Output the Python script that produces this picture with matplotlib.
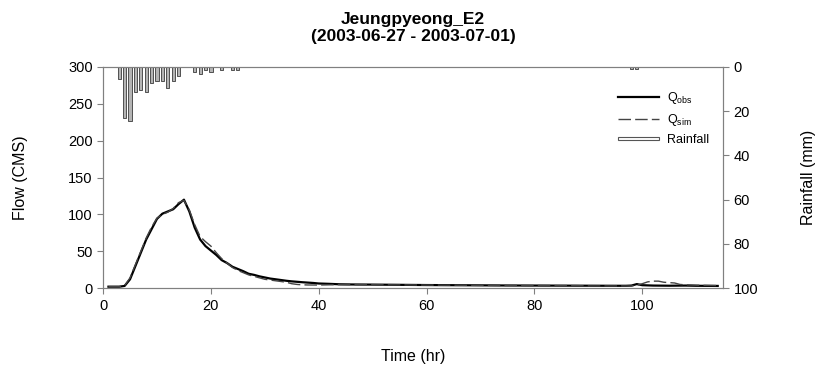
import matplotlib
matplotlib.use('Agg')
import matplotlib.pyplot as plt
from matplotlib.patches import Rectangle, Patch
from matplotlib.lines import Line2D
from matplotlib.legend_handler import HandlerPatch

plt.rcParams['font.family'] = ['Liberation Sans', 'DejaVu Sans']
plt.rcParams['mathtext.default'] = 'regular'

# observed flow (hr, CMS)
obs_hr = [1, 2, 3, 4, 5, 6, 7, 8, 9, 10, 11, 12, 13, 14, 15, 16, 17, 18, 19, 20,
          21, 22, 23, 24, 25, 26, 27, 28, 29, 30, 31, 32, 33, 34, 35, 36, 37, 38, 39, 40,
          42, 44, 46, 50, 55, 60, 65, 70, 75, 80, 85, 90, 95, 97, 98, 99, 100, 102,
          105, 108, 110, 114]
obs_q = [2, 2, 2, 3, 12, 30, 48, 66, 80, 94, 101, 104, 107, 114, 120, 104, 82, 66, 57, 51,
         45, 38, 34, 29, 26, 23, 19.5, 18, 16, 14.5, 13, 12, 11, 10, 9.2, 8.6, 8, 7.5, 7, 6.3,
         5.8, 5.2, 5, 4.8, 4.5, 4.2, 4, 3.8, 3.6, 3.5, 3.4, 3.3, 3.2, 3.2, 3.5, 5.5, 4, 3.5,
         3.3, 3.5, 3.2, 3]

# simulated flow (hr, CMS)
sim_hr = [1, 2, 3, 4, 5, 6, 7, 8, 9, 10, 11, 12, 13, 14, 15, 16, 17, 18, 19, 20,
          21, 22, 23, 24, 25, 26, 27, 28, 29, 30, 31, 32, 33, 34, 35, 36, 37, 38, 40,
          42, 44, 46, 50, 55, 60, 70, 80, 88, 90, 95, 98, 99, 100, 101, 102, 103, 104,
          105, 106, 107, 108, 110, 114]
sim_q = [2, 2, 2, 3.5, 14, 32, 50, 68, 83, 95, 100, 103, 108, 116, 119, 106, 86, 70, 63, 57,
         48, 40, 34, 28, 24, 21, 18, 16, 14, 12, 11, 10, 9, 8, 6, 5, 4.5, 4.3, 4.2,
         4.5, 4.8, 4.8, 4.6, 4.4, 4.2, 3.8, 3.5, 3.4, 3.0, 3.0, 3.0, 4, 6, 8.5, 9.5, 9.5, 8,
         7.5, 7, 5, 4.5, 4, 3.5]

# hourly rainfall (hr, mm)
rain_hr = [3, 4, 5, 6, 7, 8, 9, 10, 11, 12, 13, 14, 17, 18, 19, 20, 22, 24, 25, 98, 99]
rain_mm = [5.4, 23.2, 24.4, 11.5, 10.4, 11.5, 7.4, 6.3, 6.3, 9.3, 6.3, 4.1, 2.4, 3.3, 1.5,
           2.4, 1.4, 1.4, 1.4, 1.0, 1.0]


def thin_bar(legend, orig_handle, xdescent, ydescent, width, height, fontsize):
    h = height * 0.3
    return Rectangle((-xdescent, -ydescent + (height - h) / 2), width, h)


fig = plt.figure(figsize=(8.18, 3.68), dpi=100)
ax = fig.add_axes([0.126, 0.217, 0.758, 0.601])
ax2 = ax.twinx()

ax.plot(obs_hr, obs_q, color='black', lw=1.6, zorder=3, solid_joinstyle='round')
ax.plot(sim_hr, sim_q, color='#444444', lw=1.0, dashes=(9, 3), zorder=4)
ax2.bar(rain_hr, rain_mm, width=0.6, color='#b4b4b4', edgecolor='#3a3a3a', linewidth=0.6)

ax.set_xlim(0, 115)
ax.set_ylim(0, 300)
ax.set_xticks([0, 20, 40, 60, 80, 100])
ax.set_yticks([0, 50, 100, 150, 200, 250, 300])
ax2.set_ylim(100, 0)
ax2.set_yticks([0, 20, 40, 60, 80, 100])

for a in (ax, ax2):
    for s in a.spines.values():
        s.set_color('#808080')
        s.set_linewidth(0.8)
    a.tick_params(direction='out', length=4, color='#808080', labelsize=10.5, width=0.8)
ax.set_zorder(ax2.get_zorder() + 1)
ax.patch.set_visible(False)

ax.set_xlabel('Time (hr)', fontsize=11.5, labelpad=26)
ax.set_ylabel('Flow (CMS)', fontsize=11.5, labelpad=29)
ax2.set_ylabel('Rainfall (mm)', fontsize=11.5, labelpad=31, rotation=90)

fig.suptitle('Jeungpyeong_E2\n(2003-06-27 - 2003-07-01)', fontsize=12.5, fontweight='bold',
             y=0.968, x=0.505, linespacing=1.15)

handles = [Line2D([], [], color='black', lw=1.6),
           Line2D([], [], color='#444444', lw=1.0, dashes=(9, 3)),
           Patch(facecolor='white', edgecolor='#555555', linewidth=0.8)]
labels = ['Q$_{obs}$', 'Q$_{sim}$', 'Rainfall']
ax.legend(handles, labels, loc='upper right', bbox_to_anchor=(0.995, 0.945), frameon=False,
          fontsize=9, handlelength=3.3, labelspacing=0.45, handletextpad=0.6,
          handler_map={Patch: HandlerPatch(patch_func=thin_bar)})

fig.savefig('out.png', dpi=100)
